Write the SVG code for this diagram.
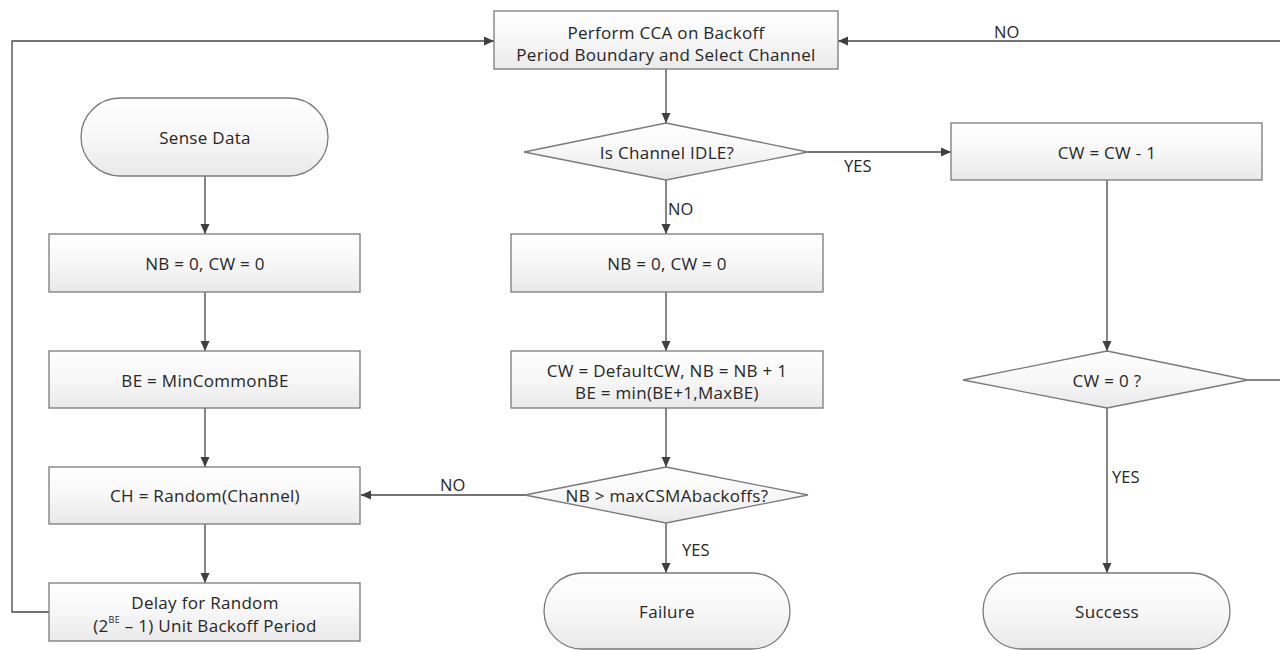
<svg xmlns="http://www.w3.org/2000/svg" width="1280" height="650" viewBox="0 0 1280 650">
<defs>
<linearGradient id="g" x1="0" y1="0" x2="0" y2="1">
<stop offset="0" stop-color="#ffffff"/>
<stop offset="0.5" stop-color="#f7f7f7"/>
<stop offset="1" stop-color="#e9e9e9"/>
</linearGradient>
<marker id="ah" viewBox="0 0 10 10" refX="10" refY="5" markerWidth="10" markerHeight="10" markerUnits="userSpaceOnUse" orient="auto">
<path d="M0,0.5 L10,5 L0,9.5 z" fill="#404040"/>
</marker>
</defs>
<style>
.n{fill:url(#g);stroke:#7a7a7a;stroke-width:1.3}
.t{font-family:"Open Sans","Noto Sans",sans-serif;font-size:17px;fill:#262626;text-anchor:middle;dominant-baseline:central;letter-spacing:0.3px}
.l{font-family:"Open Sans","Noto Sans",sans-serif;font-size:16.5px;fill:#262626;dominant-baseline:central}
.c{fill:none;stroke:#454545;stroke-width:1.3}
.a{marker-end:url(#ah)}
</style>
<rect width="1280" height="650" fill="#ffffff"/>
<g id="connectors">
<path class="c a" d="M666,69 V123"/>
<path class="c a" d="M666,180 V234"/>
<path class="c a" d="M666,292 V351"/>
<path class="c a" d="M666,408 V467"/>
<path class="c a" d="M666,523 V573"/>
<path class="c a" d="M525,495 H361"/>
<path class="c a" d="M808,152 H951"/>
<path class="c a" d="M1107,180 V351"/>
<path class="c a" d="M1107,408 V573"/>
<path class="c" d="M1248,380 H1280"/>
<path class="c a" d="M1280,41 H838"/>
<path class="c a" d="M49,612 H12 V41 H494"/>
<path class="c a" d="M205,176 V234"/>
<path class="c a" d="M205,292 V351"/>
<path class="c a" d="M205,408 V467"/>
<path class="c a" d="M205,524 V583"/>
<text class="l" x="668" y="208">NO</text>
<text class="l" x="682" y="549">YES</text>
<text class="l" x="440" y="484">NO</text>
<text class="l" x="844" y="165">YES</text>
<text class="l" x="1112" y="476">YES</text>
<text class="l" x="994" y="31">NO</text>
</g>
<g id="cca">
<rect class="n" x="494" y="11" width="344" height="58"/>
<text class="t" x="666" y="32">Perform CCA on Backoff</text>
<text class="t" x="666" y="54">Period Boundary and Select Channel</text>
</g>
<g id="idle">
<polygon class="n" points="666,123 808,152 666,180 524,152"/>
<text class="t" x="667" y="152">Is Channel IDLE?</text>
</g>
<g id="nb0b">
<rect class="n" x="511" y="234" width="312" height="58"/>
<text class="t" x="667" y="263">NB = 0, CW = 0</text>
</g>
<g id="default">
<rect class="n" x="511" y="351" width="312" height="57"/>
<text class="t" x="667" y="370">CW = DefaultCW, NB = NB + 1</text>
<text class="t" x="667" y="392">BE = min(BE+1,MaxBE)</text>
</g>
<g id="maxcsma">
<polygon class="n" points="666,467 808,495 666,523 525,495"/>
<text class="t" x="667" y="495">NB &gt; maxCSMAbackoffs?</text>
</g>
<g id="failure">
<rect class="n" x="544" y="573" width="246" height="76" rx="38" ry="38"/>
<text class="t" x="667" y="611">Failure</text>
</g>
<g id="cwdec">
<rect class="n" x="951" y="123" width="311" height="57"/>
<text class="t" x="1107" y="152">CW = CW - 1</text>
</g>
<g id="cwzero">
<polygon class="n" points="1107,351 1248,380 1107,408 963,380"/>
<text class="t" x="1107" y="380">CW = 0 ?</text>
</g>
<g id="success">
<rect class="n" x="983" y="573" width="247" height="76" rx="38" ry="38"/>
<text class="t" x="1107" y="611">Success</text>
</g>
<g id="sense">
<rect class="n" x="81" y="98" width="247" height="78" rx="39" ry="39"/>
<text class="t" x="205" y="137">Sense Data</text>
</g>
<g id="nb0a">
<rect class="n" x="49" y="234" width="311" height="58"/>
<text class="t" x="205" y="263">NB = 0, CW = 0</text>
</g>
<g id="be">
<rect class="n" x="49" y="351" width="311" height="57"/>
<text class="t" x="205" y="380">BE = MinCommonBE</text>
</g>
<g id="ch">
<rect class="n" x="49" y="467" width="311" height="57"/>
<text class="t" x="205" y="495">CH = Random(Channel)</text>
</g>
<g id="delay">
<rect class="n" x="49" y="583" width="311" height="58"/>
<text class="t" x="205" y="602">Delay for Random</text>
<text class="t" x="205" y="625">(2<tspan font-size="9px" dy="-6">BE</tspan><tspan dy="6"> – 1) Unit Backoff Period</tspan></text>
</g>
</svg>
